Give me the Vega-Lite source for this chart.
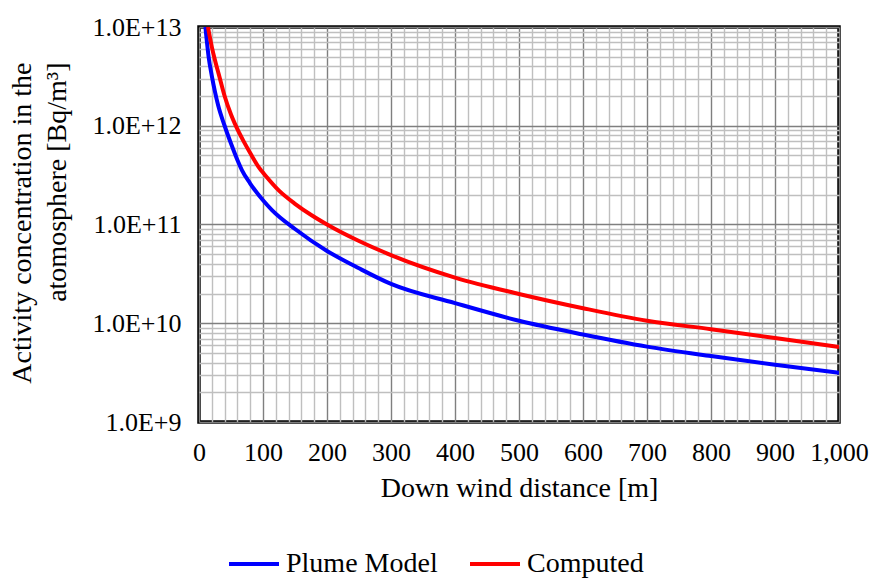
{
  "$schema": "https://vega.github.io/schema/vega-lite/v6.json",
  "width": 640,
  "height": 395,
  "autosize": "none",
  "padding": {"left": 199, "top": 27, "right": 30, "bottom": 157},
  "background": "white",
  "config": {
    "font": "Liberation Serif",
    "view": {"stroke": "black", "strokeWidth": 3.5},
    "axis": {"labelFont": "Liberation Serif", "titleFont": "Liberation Serif", "labelColor": "black", "titleColor": "black", "titleFontWeight": "normal", "labelFlush": false, "labelOverlap": false}
  },
  "data": {
    "values": [
      {"x": 10, "y": 1e13, "s": "Plume Model"},
      {"x": 15, "y": 5.0e12, "s": "Plume Model"},
      {"x": 20, "y": 3.2e12, "s": "Plume Model"},
      {"x": 25, "y": 2.2e12, "s": "Plume Model"},
      {"x": 30, "y": 1.6e12, "s": "Plume Model"},
      {"x": 40, "y": 1.0e12, "s": "Plume Model"},
      {"x": 50, "y": 6.6e11, "s": "Plume Model"},
      {"x": 60, "y": 4.5e11, "s": "Plume Model"},
      {"x": 67, "y": 3.56e11, "s": "Plume Model"},
      {"x": 80, "y": 2.6e11, "s": "Plume Model"},
      {"x": 100, "y": 1.76e11, "s": "Plume Model"},
      {"x": 114, "y": 1.4e11, "s": "Plume Model"},
      {"x": 150, "y": 9.0e10, "s": "Plume Model"},
      {"x": 200, "y": 5.4e10, "s": "Plume Model"},
      {"x": 250, "y": 3.6e10, "s": "Plume Model"},
      {"x": 300, "y": 2.5e10, "s": "Plume Model"},
      {"x": 400, "y": 1.6e10, "s": "Plume Model"},
      {"x": 500, "y": 1.06e10, "s": "Plume Model"},
      {"x": 600, "y": 7.7e9, "s": "Plume Model"},
      {"x": 700, "y": 5.8e9, "s": "Plume Model"},
      {"x": 800, "y": 4.65e9, "s": "Plume Model"},
      {"x": 900, "y": 3.8e9, "s": "Plume Model"},
      {"x": 1000, "y": 3.15e9, "s": "Plume Model"},
      {"x": 14, "y": 1e13, "s": "Computed"},
      {"x": 20, "y": 6.3e12, "s": "Computed"},
      {"x": 25, "y": 4.6e12, "s": "Computed"},
      {"x": 31, "y": 3.3e12, "s": "Computed"},
      {"x": 40, "y": 2.0e12, "s": "Computed"},
      {"x": 50, "y": 1.3e12, "s": "Computed"},
      {"x": 56, "y": 1.05e12, "s": "Computed"},
      {"x": 70, "y": 6.9e11, "s": "Computed"},
      {"x": 80, "y": 5.3e11, "s": "Computed"},
      {"x": 96, "y": 3.6e11, "s": "Computed"},
      {"x": 100, "y": 3.35e11, "s": "Computed"},
      {"x": 125, "y": 2.2e11, "s": "Computed"},
      {"x": 150, "y": 1.62e11, "s": "Computed"},
      {"x": 176, "y": 1.24e11, "s": "Computed"},
      {"x": 200, "y": 1.0e11, "s": "Computed"},
      {"x": 250, "y": 6.8e10, "s": "Computed"},
      {"x": 300, "y": 4.9e10, "s": "Computed"},
      {"x": 400, "y": 2.9e10, "s": "Computed"},
      {"x": 500, "y": 1.98e10, "s": "Computed"},
      {"x": 600, "y": 1.42e10, "s": "Computed"},
      {"x": 700, "y": 1.06e10, "s": "Computed"},
      {"x": 800, "y": 8.7e9, "s": "Computed"},
      {"x": 900, "y": 7.1e9, "s": "Computed"},
      {"x": 1000, "y": 5.75e9, "s": "Computed"}
    ]
  },
  "mark": {"type": "line", "strokeWidth": 4, "clip": true, "interpolate": "monotone"},
  "encoding": {
    "x": {
      "field": "x", "type": "quantitative",
      "scale": {"domain": [0, 1000], "nice": false},
      "axis": {
        "title": "Down wind distance [m]",
        "titleFontSize": 28, "titlePadding": 9,
        "labelFontSize": 26, "labelPadding": 17,
        "domain": false, "ticks": false,
        "values": [0,20,40,60,80,100,120,140,160,180,200,220,240,260,280,300,320,340,360,380,400,420,440,460,480,500,520,540,560,580,600,620,640,660,680,700,720,740,760,780,800,820,840,860,880,900,920,940,960,980,1000],
        "labelExpr": "datum.value % 100 === 0 ? format(datum.value, ',') : ''",
        "grid": true,
        "gridWidth": 1.4,
        "gridColor": {"condition": {"test": "datum.value % 100 === 0", "value": "#7f7f7f"}, "value": "#bfbfbf"}
      }
    },
    "y": {
      "field": "y", "type": "quantitative",
      "scale": {"type": "log", "domain": [1e9, 1e13], "nice": false},
      "axis": {
        "title": ["Activity concentration in the", "atomosphere  [Bq/m³]"],
        "titleFontSize": 28, "titleLineHeight": 35, "titlePadding": 20,
        "titleY": 35, "titleAlign": "right",
        "labelFontSize": 26, "labelPadding": 18,
        "domain": false, "ticks": false,
        "values": [1e9,2e9,3e9,4e9,5e9,6e9,7e9,8e9,9e9,1e10,2e10,3e10,4e10,5e10,6e10,7e10,8e10,9e10,1e11,2e11,3e11,4e11,5e11,6e11,7e11,8e11,9e11,1e12,2e12,3e12,4e12,5e12,6e12,7e12,8e12,9e12,1e13],
        "labelExpr": "abs(log(datum.value)/LN10 - round(log(datum.value)/LN10)) < 1e-6 ? '1.0E+' + round(log(datum.value)/LN10) : ''",
        "grid": true,
        "gridWidth": 1.4,
        "gridColor": {"condition": {"test": "abs(log(datum.value)/LN10 - round(log(datum.value)/LN10)) < 1e-6", "value": "#7f7f7f"}, "value": "#bfbfbf"}
      }
    },
    "color": {
      "field": "s", "type": "nominal",
      "scale": {"domain": ["Plume Model", "Computed"], "range": ["#0000ff", "#ff0000"]},
      "legend": {
        "title": null, "orient": "none", "direction": "horizontal",
        "legendX": 41, "legendY": 523,
        "symbolType": "M-2.5,0H2.5", "symbolStrokeWidth": 4, "symbolSize": 400,
        "labelFontSize": 28, "labelFont": "Liberation Serif", "labelColor": "black", "labelLimit": 400,
        "labelOffset": 18, "columnPadding": 24
      }
    }
  }
}
